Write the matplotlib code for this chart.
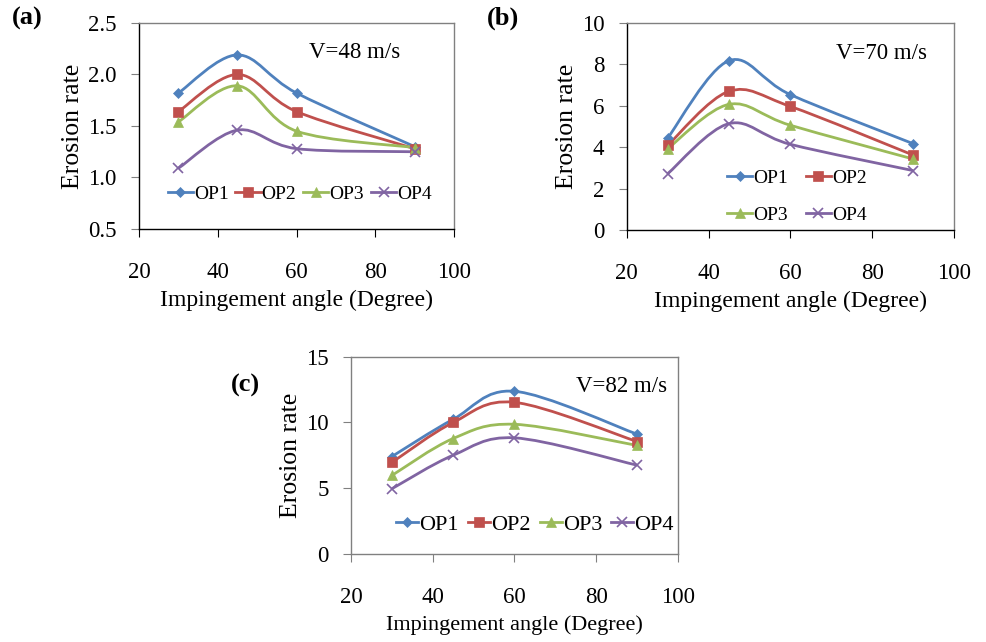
import matplotlib
matplotlib.use("Agg")
import matplotlib.pyplot as plt
from matplotlib.path import Path
from matplotlib.patches import PathPatch
from matplotlib.lines import Line2D
import numpy as np

plt.rcParams['font.family'] = ['Liberation Serif', 'DejaVu Serif']

angles = [30, 45, 60, 90]
series_names = ["OP1", "OP2", "OP3", "OP4"]

# Panel (a) V=48 m/s
a_op1 = [1.82, 2.19, 1.82, 1.30]
a_op2 = [1.64, 2.00, 1.64, 1.28]
a_op3 = [1.54, 1.89, 1.45, 1.29]
a_op4 = [1.09, 1.46, 1.28, 1.25]

# Panel (b) V=70 m/s
b_op1 = [4.44, 8.18, 6.54, 4.17]
b_op2 = [4.09, 6.70, 5.97, 3.62]
b_op3 = [3.93, 6.07, 5.06, 3.43]
b_op4 = [2.72, 5.14, 4.14, 2.87]

# Panel (c) V=82 m/s
c_op1 = [7.41, 10.24, 12.37, 9.11]
c_op2 = [6.96, 10.00, 11.53, 8.55]
c_op3 = [5.97, 8.78, 9.86, 8.25]
c_op4 = [4.96, 7.51, 8.83, 6.75]

colors = ["#4F81BD", "#C0504D", "#9BBB59", "#8064A2"]
markers = ["D", "s", "^", "x"]
msizes = [5, 6.5, 6.5, 7]


def smooth_path(x, y):
    pts = np.column_stack([x, y]).astype(float)
    n = len(pts)
    verts = [pts[0]]
    codes = [Path.MOVETO]
    for i in range(n - 1):
        p0 = pts[i - 1] if i > 0 else pts[i]
        p1 = pts[i]
        p2 = pts[i + 1]
        p3 = pts[i + 2] if i + 2 < n else pts[i + 1]
        c1 = p1 + (p2 - p0) / 6.0
        c2 = p2 - (p3 - p1) / 6.0
        verts += [c1, c2, p2]
        codes += [Path.CURVE4] * 3
    return Path(verts, codes)


def draw_panel(ax, data, ylim, yticks, yfmt, vtext, vpos, label, legend_kw,
               xlab_fs=17, leg_fs=14, order=(0, 1, 2, 3), spine_dark=True, handlelength=1.3):
    for vals, c, m, ms in zip(data, colors, markers, msizes):
        patch = PathPatch(smooth_path(angles, vals), facecolor='none', edgecolor=c, lw=2.0, zorder=2)
        ax.add_patch(patch)
        ax.plot(angles, vals, linestyle='none', marker=m, color=c, markersize=ms,
                markeredgewidth=1.2 if m == 'x' else 0.5, zorder=3)
    ax.set_xlim(20, 100)
    ax.set_ylim(*ylim)
    ax.set_xticks([20, 40, 60, 80, 100])
    ax.set_yticks(yticks)
    ax.set_yticklabels([yfmt.format(v) for v in yticks])
    ax.tick_params(axis='both', labelsize=16.5, direction='out', length=6)
    ax.tick_params(axis='x', pad=18, color='black' if spine_dark else '#808080')
    ax.tick_params(axis='y', pad=10, color='#808080')
    for s in ['top', 'right']:
        ax.spines[s].set_color('#808080')
        ax.spines[s].set_linewidth(1.0)
    for s in ['left', 'bottom']:
        ax.spines[s].set_color('black' if spine_dark else '#808080')
        ax.spines[s].set_linewidth(1.0)
    ax.set_xlabel("Impingement angle (Degree)", fontsize=xlab_fs, labelpad=5)
    ax.set_ylabel("Erosion rate", fontsize=18.5, labelpad=3)
    ax.text(vpos[0], vpos[1], vtext, transform=ax.transAxes, ha='right', va='center', fontsize=16.5)
    handles = [Line2D([], [], color=c, marker=m, markersize=ms, lw=2.0,
                      markeredgewidth=1.2 if m == 'x' else 0.5)
               for c, m, ms in zip(colors, markers, msizes)]
    ax.legend([handles[i] for i in order], [series_names[i] for i in order],
              frameon=False, fontsize=leg_fs,
              handlelength=handlelength, handletextpad=0.05, borderaxespad=0.0, borderpad=0.0,
              **legend_kw)
    ax.text(label[0], label[1], label[2], transform=ax.figure.transFigure,
            fontsize=19, fontweight='bold', ha='left', va='center')


fig = plt.figure(figsize=(9.86, 6.42), dpi=100)

ax_a = fig.add_axes([0.141, 0.6433, 0.3195, 0.3209])
draw_panel(ax_a, [a_op1, a_op2, a_op3, a_op4], (0.5, 2.5), [0.5, 1.0, 1.5, 2.0, 2.5], "{:.1f}",
           "V=48 m/s", (0.829, 0.859), (0.012, 0.972, "(a)"),
           dict(loc='center', bbox_to_anchor=(0.51, 0.17), ncol=4, columnspacing=0.35))

ax_b = fig.add_axes([0.6356, 0.6417, 0.332, 0.3225])
draw_panel(ax_b, [b_op1, b_op2, b_op3, b_op4], (0, 10), [0, 2, 4, 6, 8, 10], "{:.0f}",
           "V=70 m/s", (0.917, 0.855), (0.494, 0.972, "(b)"),
           dict(loc='center', bbox_to_anchor=(0.52, 0.16), ncol=2, columnspacing=0.9,
                labelspacing=1.0),
           order=(0, 2, 1, 3))

ax_c = fig.add_axes([0.356, 0.1371, 0.3316, 0.3073])
draw_panel(ax_c, [c_op1, c_op2, c_op3, c_op4], (0, 15), [0, 5, 10, 15], "{:.0f}",
           "V=82 m/s", (0.966, 0.848), (0.234, 0.4, "(c)"),
           dict(loc='center', bbox_to_anchor=(0.563, 0.147), ncol=4, columnspacing=0.4),
           xlab_fs=16, leg_fs=16, spine_dark=False, handlelength=1.0)

fig.savefig("out.png", dpi=100)
